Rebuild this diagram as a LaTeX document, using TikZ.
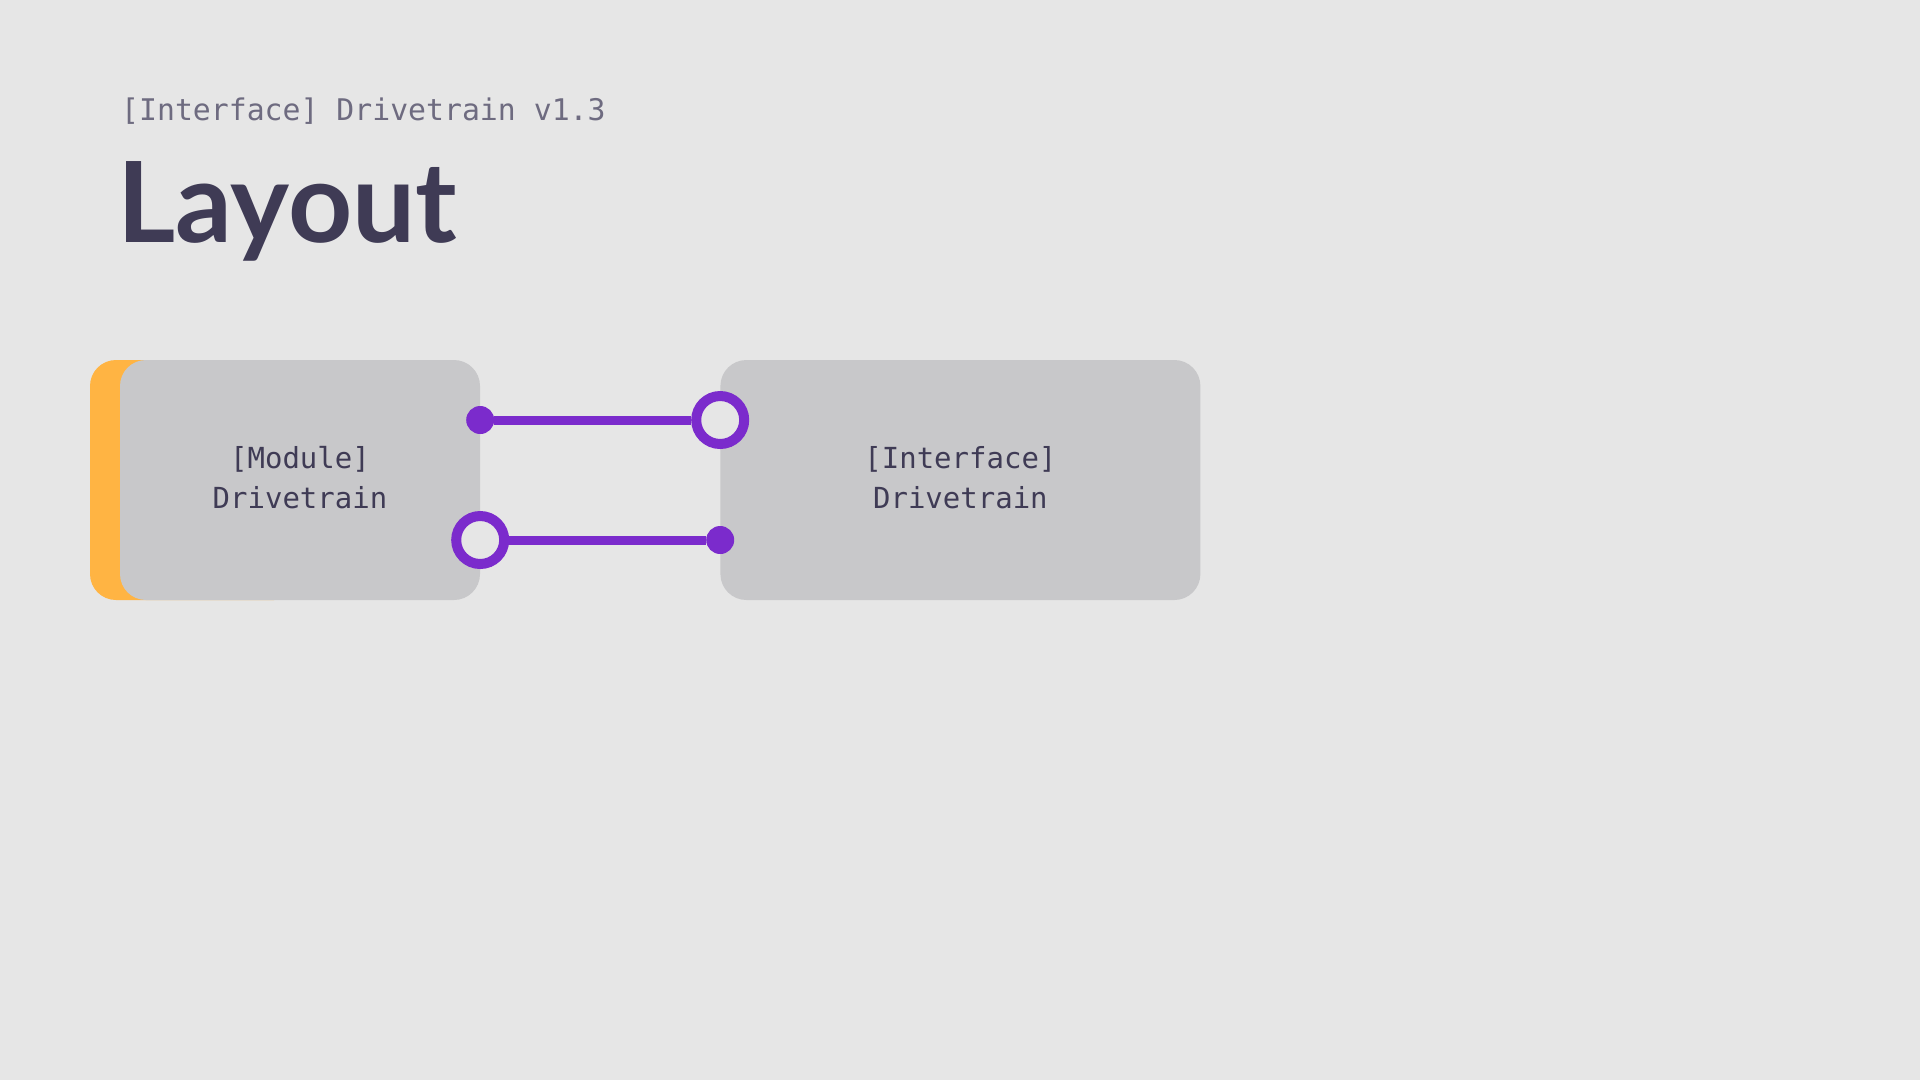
\documentclass[tikz,border=0pt]{standalone}
\usepackage{fontspec}
\setmonofont{DejaVu Sans Mono}
\newfontfamily\titlefont{Lato}
\usetikzlibrary{positioning}

\begin{document}
\begin{tikzpicture}[x=1pt,y=-1pt,
	box/.style={rectangle,rounded corners=26pt,fill=boxgray,minimum width=360pt,
		minimum height=240pt,text=ink,align=center,
		font=\fontsize{29}{40}\selectfont\ttfamily},
	link/.style={draw=port,line width=9pt},
	dot/.style={circle,fill=port,inner sep=0pt,minimum size=28pt},
	ring/.style={circle,draw=port,fill=bg,line width=10pt,inner sep=0pt,minimum size=48pt}]
	
	\definecolor{bg}{HTML}{E6E6E6}
	\definecolor{boxgray}{HTML}{C8C8CA}
	\definecolor{accent}{HTML}{FFB443}
	\definecolor{port}{HTML}{7B2BCC}
	\definecolor{ink}{HTML}{3F3B55}
	\definecolor{subink}{HTML}{6E6B80}
	
	\fill[bg] (0,0) rectangle (1920,1080);
	\useasboundingbox (0,0) rectangle (1920,1080);
	
	% heading
	\node[anchor=base west,inner sep=0pt,text=subink,font=\fontsize{29.8}{36}\selectfont\ttfamily] (sub) at (121,120) {[Interface] Drivetrain v1.3};
	\node[anchor=base west,inner sep=0pt,text=ink,font=\fontsize{112}{112}\selectfont\titlefont\bfseries] (title) at (117,242) {Layout};
	
	% blocks
	\node[rectangle,rounded corners=26pt,fill=accent,minimum width=210pt,minimum height=240pt] (tab) at (195,480) {};
	\node[box] (mod) at (300,480) {[Module]\\Drivetrain\rule[-6pt]{0pt}{6pt}};
	\node[box,minimum width=480pt] (intf) [right=240pt of mod] {[Interface]\\Drivetrain\rule[-6pt]{0pt}{6pt}};
	
	% ports
	\node[dot] (d1) at ([yshift=60pt]mod.east) {};
	\node[ring] (r1) at ([yshift=60pt]intf.west) {};
	\node[ring] (r2) at ([yshift=-60pt]mod.east) {};
	\node[dot] (d2) at ([yshift=-60pt]intf.west) {};
	
	\draw[link] (d1) -- (r1);
	\draw[link] (r2) -- (d2);
\end{tikzpicture}
\end{document}
